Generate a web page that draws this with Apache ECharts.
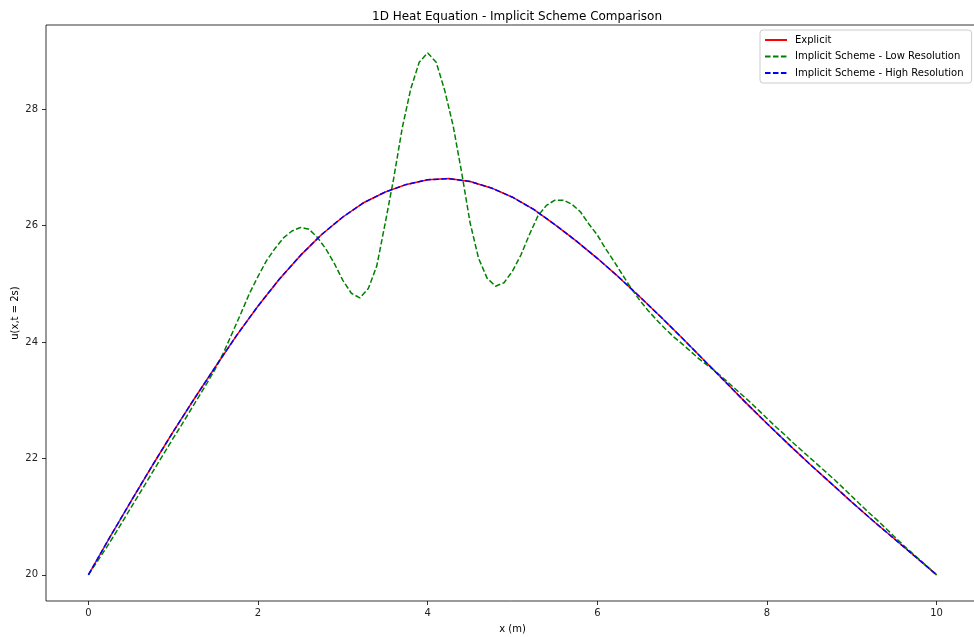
<!DOCTYPE html>
<html>
<head>
<meta charset="utf-8">
<title>1D Heat Equation - Implicit Scheme Comparison</title>
<script src="https://cdn.jsdelivr.net/npm/echarts@6/dist/echarts.min.js"></script>
<style>
  html, body { margin: 0; padding: 0; background: #fff; }
  #chart { width: 974px; height: 637px; }
</style>
</head>
<body>
<div id="chart"></div>
<script>
// explicit solution, sampled every 0.25 m
const explicitX = [0, 0.25, 0.5, 0.75, 1, 1.25, 1.5, 1.75, 2, 2.25, 2.5, 2.75, 3, 3.25, 3.5, 3.75,
  4, 4.25, 4.5, 4.75, 5, 5.25, 5.5, 5.75, 6, 6.25, 6.5, 6.75, 7, 7.25, 7.5, 7.75,
  8, 8.25, 8.5, 8.75, 9, 9.25, 9.5, 9.75, 10]
const explicitU = [20.00, 20.64, 21.26, 21.87, 22.46, 23.03, 23.58, 24.12, 24.62, 25.08, 25.49, 25.85,
  26.15, 26.40, 26.58, 26.71, 26.79, 26.81, 26.76, 26.65, 26.49, 26.28, 26.02, 25.74,
  25.44, 25.12, 24.78, 24.43, 24.07, 23.70, 23.33, 22.96, 22.60, 22.25, 21.91, 21.58,
  21.25, 20.93, 20.62, 20.31, 20.00]

// high resolution implicit run sits right on top of the explicit one
const highResX = explicitX
const highResU = explicitU

// low resolution implicit run, dx = 0.1
const lowResX = [0, 0.1, 0.2, 0.3, 0.4, 0.5, 0.6, 0.7, 0.8, 0.9,
  1, 1.1, 1.2, 1.3, 1.4, 1.5, 1.6, 1.7, 1.8, 1.9,
  2, 2.1, 2.2, 2.3, 2.4, 2.5, 2.6, 2.7, 2.8, 2.9,
  3, 3.1, 3.2, 3.3, 3.4, 3.5, 3.6, 3.7, 3.8, 3.9,
  4, 4.1, 4.2, 4.3, 4.4, 4.5, 4.6, 4.7, 4.8, 4.9,
  5, 5.1, 5.2, 5.3, 5.4, 5.5, 5.6, 5.7, 5.8, 5.9,
  6, 6.1, 6.2, 6.3, 6.4, 6.5, 6.6, 6.7, 6.8, 6.9,
  7, 7.1, 7.2, 7.3, 7.4, 7.5, 7.6, 7.7, 7.8, 7.9,
  8, 8.1, 8.2, 8.3, 8.4, 8.5, 8.6, 8.7, 8.8, 8.9,
  9, 9.1, 9.2, 9.3, 9.4, 9.5, 9.6, 9.7, 9.8, 9.9, 10]
const lowResU = [20.00, 20.22, 20.44, 20.67, 20.91, 21.15, 21.39, 21.63, 21.87, 22.11,
  22.35, 22.58, 22.82, 23.06, 23.30, 23.55, 23.84, 24.17, 24.50, 24.84,
  25.13, 25.40, 25.61, 25.79, 25.91, 25.97, 25.94, 25.80, 25.60, 25.35,
  25.06, 24.84, 24.76, 24.92, 25.31, 26.05, 26.82, 27.68, 28.35, 28.81,
  28.97, 28.81, 28.33, 27.72, 26.92, 26.05, 25.44, 25.10, 24.96, 25.02,
  25.22, 25.50, 25.85, 26.17, 26.35, 26.44, 26.44, 26.37, 26.24, 26.03,
  25.84, 25.60, 25.38, 25.15, 24.92, 24.72, 24.54, 24.38, 24.23, 24.09,
  23.97, 23.84, 23.71, 23.60, 23.49, 23.36, 23.23, 23.10, 22.97, 22.83,
  22.69, 22.55, 22.42, 22.28, 22.15, 22.02, 21.89, 21.76, 21.63, 21.49,
  21.35, 21.21, 21.07, 20.94, 20.80, 20.66, 20.52, 20.39, 20.26, 20.13, 20.00]

const xTicks = [0, 2, 4, 6, 8, 10]
const yTicks = [20, 22, 24, 26, 28]

const zip = (xs, ys) => xs.map((x, i) => [x, ys[i]])

const font = 'DejaVu Sans'
const dash = [5.55, 2.4]

let myChart = echarts.init(document.getElementById('chart'))

let option = {
  animation: false,
  title: {
    text: '1D Heat Equation - Implicit Scheme Comparison',
    left: 512,
    top: 6,
    textAlign: 'center',
    textStyle: { fontFamily: font, fontSize: 12, fontWeight: 'normal', color: '#000' }
  },
  legend: {
    orient: 'vertical',
    left: 760,
    top: 30,
    padding: [5, 8, 5, 4],
    itemWidth: 22,
    itemHeight: 10,
    itemGap: 6.5,
    borderColor: '#cccccc',
    borderWidth: 1,
    borderRadius: 3,
    backgroundColor: 'rgba(255,255,255,0.8)',
    itemStyle: { opacity: 0 },  // hide the circle ECharts puts on line icons
    textStyle: { fontFamily: font, fontSize: 10, color: '#000', padding: [0, 0, 0, 3] },
    data: ['Explicit', 'Implicit Scheme - Low Resolution', 'Implicit Scheme - High Resolution']
  },
  grid: {
    left: 46,
    top: 25,
    width: 933,
    height: 576,
    outerBoundsMode: 'none',
    show: true,
    borderColor: '#000',
    borderWidth: 0.8,
    backgroundColor: '#fff'
  },
  xAxis: {
    type: 'value',
    min: -0.5,
    max: 10.5,
    name: 'x (m)',
    nameLocation: 'middle',
    nameGap: 23,
    nameMoveOverlap: false,
    nameTextStyle: { fontFamily: font, fontSize: 10, color: '#000' },
    splitLine: { show: false },
    axisLine: { show: false, onZero: false },
    axisTick: { show: true, length: 4, customValues: xTicks, lineStyle: { color: '#000', width: 0.8 } },
    axisLabel: { customValues: xTicks, margin: 7, fontFamily: font, fontSize: 10, color: '#222' }
  },
  yAxis: {
    type: 'value',
    min: 19.55,
    max: 29.45,
    name: 'u(x,t = 2s)',
    nameLocation: 'middle',
    nameGap: 26,
    nameMoveOverlap: false,
    nameTextStyle: { fontFamily: font, fontSize: 10, color: '#000' },
    splitLine: { show: false },
    axisLine: { show: false, onZero: false },
    axisTick: { show: true, length: 4, customValues: yTicks, lineStyle: { color: '#000', width: 0.8 } },
    axisLabel: { customValues: yTicks, margin: 8, fontFamily: font, fontSize: 10, color: '#222' }
  },
  series: [
    {
      name: 'Explicit',
      type: 'line',
      data: zip(explicitX, explicitU),
      showSymbol: false,
      symbol: 'none',
      color: '#ff0000',
      lineStyle: { color: '#ff0000', width: 1.5 }
    },
    {
      name: 'Implicit Scheme - Low Resolution',
      type: 'line',
      data: zip(lowResX, lowResU),
      showSymbol: false,
      symbol: 'none',
      color: '#008000',
      lineStyle: { color: '#008000', width: 1.5, type: dash }
    },
    {
      name: 'Implicit Scheme - High Resolution',
      type: 'line',
      data: zip(highResX, highResU),
      showSymbol: false,
      symbol: 'none',
      color: '#0000ff',
      lineStyle: { color: '#0000ff', width: 1.5, type: dash }
    }
  ]
}

myChart.setOption(option)
</script>
</body>
</html>
